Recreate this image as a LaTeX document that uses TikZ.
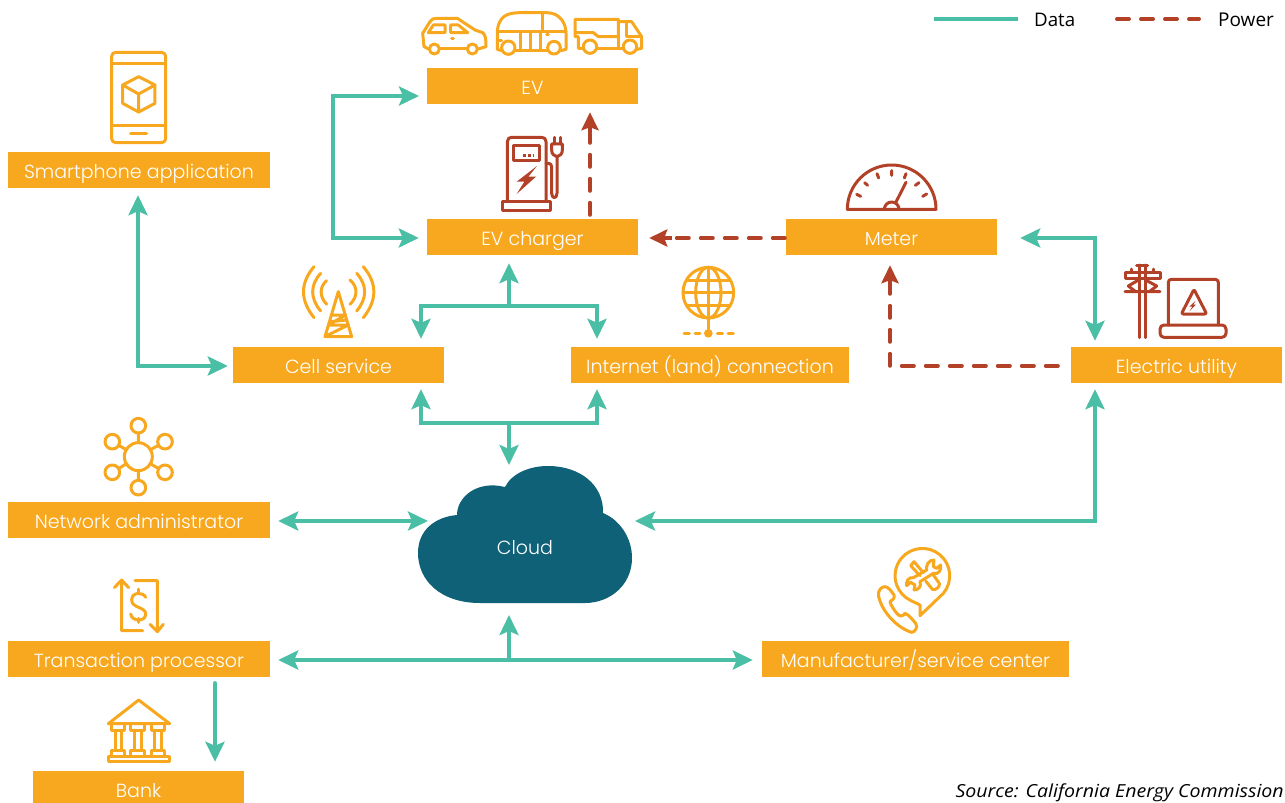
\documentclass[tikz,border=0pt]{standalone}
\usepackage{fontspec}
\usetikzlibrary{arrows.meta,calc}
\setmainfont{Open Sans}
\newfontfamily\lblfont{Poppins Light}
\newfontfamily\srcfont[FakeStretch=1.086]{Open Sans}
\definecolor{boxor}{HTML}{F8A81F}
\definecolor{teal}{HTML}{4ABFA5}
\definecolor{rust}{HTML}{B24127}
\definecolor{cloudc}{HTML}{0E6177}
\tikzset{
 lbl/.style={fill=boxor,text=white,font=\lblfont\fontsize{19}{19}\selectfont,minimum height=36pt,inner xsep=0pt,inner ysep=0pt,text height=17pt,text depth=0pt},
 dataarrow/.style={draw=teal,line width=4.3pt,line join=miter},
 powerarrow/.style={draw=rust,line width=4pt,line cap=round,line join=round,dash pattern=on 12pt off 12pt},
 dtip/.tip={Stealth[length=20pt,width=19pt,inset=4pt,fill=teal]},
 ptip/.tip={Stealth[length=18pt,width=17pt,inset=3pt,fill=rust]},
 oicon/.style={draw=boxor,line width=3pt,line join=round,line cap=round},
 ricon/.style={draw=rust,line width=3pt,line join=round,line cap=round}
}
\begin{document}
\begin{tikzpicture}[x=1pt,y=-1pt]
\useasboundingbox (0,0) rectangle (1285,803);
\clip (0,0) rectangle (1285,803);
% boxes
\node[lbl,minimum width=211pt] (ev) at (532.5,86) {EV};
\node[lbl,minimum width=262pt] (phone) at (139,170) {Smartphone application};
\node[lbl,minimum width=211pt] (charger) at (532.5,237) {EV charger};
\node[lbl,minimum width=211pt] (meter) at (891.5,237) {Meter};
\node[lbl,minimum width=211pt] (cell) at (338.5,365) {Cell service};
\node[lbl,minimum width=278pt] (net) at (710,365) {Internet (land) connection};
\node[lbl,minimum width=211pt] (util) at (1176.5,365) {Electric utility};
\node[lbl,minimum width=262pt] (admin) at (139,520) {Network administrator};
\node[lbl,minimum width=262pt] (trans) at (139,659) {Transaction processor};
\node[lbl,minimum width=307pt] (manu) at (915.5,659) {Manufacturer/service center};
\node[lbl,minimum width=211pt] (bank) at (138.5,789) {Bank};
% cloud
\fill[cloudc] (480,603) .. controls (440,603) and (418,580) .. (418,553)
 .. controls (418,530) and (435,517) .. (457,515)
 .. controls (457,497) and (477,480) .. (505,487)
 .. controls (512,473) and (530,466) .. (548,466)
 .. controls (580,466) and (604,485) .. (603,513)
 .. controls (620,520) and (632,538) .. (632,558)
 .. controls (632,585) and (610,603) .. (585,603) -- cycle;
\node[text=white,font=\lblfont\fontsize{19}{19}\selectfont,inner sep=0pt] (cloud) at (525,548) {Cloud};
\coordinate (cloudW) at (428,521);
\coordinate (cloudE) at (635,521);
\coordinate (cloudN) at (509,465);
\coordinate (cloudS) at (509,615);
% data connectors
\coordinate (bendA) at (333,96);
\draw[dataarrow,{dtip}-{dtip}] (419,96) -- (bendA) |- ($(charger.west)+(-8,1)$);
\draw[dataarrow,{dtip}-{dtip}] ($(phone.south)+(-1,7)$) -- (138,366) -- ($(cell.west)+(-5,1)$);
\coordinate (j1) at (509,306);
\draw[dataarrow,-{dtip}] (j1) -- ($(charger.south)+(-23.5,8)$);
\draw[dataarrow,{dtip}-{dtip}] ($(cell.north)+(82.5,-8)$) |- (j1) -| ($(net.north)+(-113,-8)$);
\coordinate (j2) at (509,423);
\draw[dataarrow,-{dtip}] (j2) -- (cloudN);
\draw[dataarrow,{dtip}-{dtip}] ($(cell.south)+(82.5,6)$) |- (j2) -| ($(net.south)+(-113,6)$);
\coordinate (bendU) at (1095,238);
\draw[dataarrow,{dtip}-{dtip}] ($(meter.east)+(23,1)$) -- (bendU) -- ($(util.north)+(-81.5,-6)$);
\coordinate (bendC) at (1095,521);
\draw[dataarrow,{dtip}-{dtip}] ($(util.south)+(-81.5,6)$) -- (bendC) -- (cloudE);
\draw[dataarrow,{dtip}-{dtip}] ($(admin.east)+(8,1)$) -- (cloudW);
\coordinate (j3) at (509,660);
\draw[dataarrow,{dtip}-{dtip}] ($(trans.east)+(8,1)$) -- ($(manu.west)+(-9,1)$);
\draw[dataarrow,-{dtip}] (j3) -- (cloudS);
\draw[dataarrow,line cap=round,-{dtip}] ($(trans.south)+(76,6)$) -- ($(bank.north)+(76.5,-9)$);
% power connectors
\draw[powerarrow] ($(meter.west)+(-1,1)$) -- (668,238);
\draw[draw=rust,line width=4pt,-{ptip}] (672,238) -- ($(charger.east)+(11,1)$);
\draw[powerarrow] ($(charger.north)+(57.5,-4)$) -- (590,134);
\draw[draw=rust,line width=4pt,-{ptip}] (590,133) -- ($(ev.south)+(57.5,8)$);
\draw[powerarrow] ($(util.west)+(-13,1)$) -- (890,366) -- (890,287);
\draw[draw=rust,line width=4pt,-{ptip}] (890,290) -- ($(meter.south)+(-1.5,10)$);
% legend
\coordinate (legA) at (934,19); \coordinate (legB) at (1018,19);
\coordinate (legC) at (1117,19); \coordinate (legD) at (1199,19);
\draw[dataarrow] (legA) -- (legB);
\draw[powerarrow] (legC) -- (legD);
\node[anchor=west,inner sep=0pt,font=\fontsize{18.7}{19}\selectfont] (ldata) at (1034,20) {Data};
\node[anchor=west,inner sep=0pt,font=\fontsize{19}{19}\selectfont] (lpower) at (1218,20) {Power};
\node[anchor=base east,inner sep=0pt,font=\srcfont\itshape\fontsize{18}{18}\selectfont] (src) at (1284,797.5) {Source: California Energy Commission};
% --- icons ---
% vehicles
\begin{scope}[shift={(400,0)},scale=1/3]
 \draw[oicon] (86,147) -- (72,140) -- (68,100) -- (90,65) .. controls (95,57) and (100,55) .. (110,55) -- (172,55) -- (225,90) -- (248,98) .. controls (256,105) and (258,115) .. (258,140) -- (234,147);
 \draw[oicon] (120,147) -- (200,147);
 \draw[oicon] (103,147) circle (15) (217,147) circle (15);
 \draw[oicon] (85,98) -- (100,75) -- (135,75) -- (135,98) -- cycle;
 \draw[oicon] (152,75) -- (175,75) -- (203,98) -- (152,98) -- cycle;
 \draw[oicon] (155,115) -- (160,115);
 \draw[oicon] (305,152) -- (292,148) -- (292,95) .. controls (295,50) and (320,38) .. (360,38) -- (440,38) .. controls (480,38) and (498,70) .. (498,100) -- (498,148) -- (482,152);
 \draw[oicon] (345,152) -- (442,152);
 \draw[oicon] (325,143) circle (20) (462,143) circle (19);
 \draw[oicon] (292,95) -- (498,95) (428,38) -- (428,95) (362,95) -- (362,152) (390,95) -- (390,152) (420,95) -- (420,152);
 \draw[oicon] (292,122) -- (305,122) (440,105) -- (445,105);
 \draw[oicon] (550,145) -- (535,145) -- (535,110) -- (525,110) -- (525,58) -- (655,58) -- (655,110) -- (595,110) -- (580,98) -- (525,98);
 \draw[oicon] (655,65) -- (695,65) -- (725,110) -- (725,145) -- (712,148);
 \draw[oicon] (678,68) -- (678,110) -- (722,110) (655,110) -- (655,145) (592,145) -- (668,145);
 \draw[oicon] (570,140) circle (20) (690,140) circle (20);
 % charger
 \draw[ricon] (322,605) -- (322,425) .. controls (322,416) and (328,412) .. (335,412) -- (425,412) .. controls (433,412) and (438,416) .. (438,425) -- (438,605);
 \draw[ricon] (340,437) rectangle (418,483);
 \draw[ricon,line cap=butt,dash pattern=on 3pt off 2pt] (368,466) -- (402,466);
 \fill[rust] (411,498) -- (350,545) -- (373,545) -- (350,582) -- (408,530) -- (385,530) -- cycle;
 \draw[ricon] (307,605) rectangle (452,632);
 \draw[ricon] (438,490) -- (445,490) .. controls (455,490) and (455,500) .. (455,510) -- (455,580) .. controls (455,597) and (471,597) .. (471,580) -- (471,470);
 \draw[ricon] (455,432) -- (487,432) -- (487,450) .. controls (487,462) and (480,468) .. (471,470) .. controls (462,468) and (455,462) .. (455,450) -- cycle;
 \draw[ricon] (463,412) -- (463,432) (480,412) -- (480,432);
\end{scope}
% phone
\begin{scope}[shift={(0,30)},scale=1/3]
 \draw[oicon,rounded corners=4pt] (335,67) rectangle (497,338);
 \draw[oicon] (335,100) -- (497,100) (335,285) -- (497,285);
 \draw[oicon,line width=3pt] (392,310) -- (440,310);
 \draw[oicon] (416,140) -- (465,165) -- (465,220) -- (416,246) -- (368,220) -- (368,165) -- cycle;
 \draw[oicon] (368,165) -- (416,192) -- (465,165) (416,192) -- (416,246);
\end{scope}
% tower and globe
\begin{scope}[shift={(280,250)},scale=1/3]
 \draw[oicon] (135,260) -- (175,125) -- (215,260) -- cycle;
 \draw[oicon] (155,195) -- (197,195) -- (145,225) -- (205,225) -- (138,258) (150,215) -- (200,210);
 \draw[oicon] (102,50) .. controls (60,100) and (60,150) .. (102,203);
 \draw[oicon] (122,70) .. controls (90,105) and (90,145) .. (122,183);
 \draw[oicon] (140,92) .. controls (118,110) and (118,140) .. (140,163);
 \draw[oicon] (250,50) .. controls (292,100) and (292,150) .. (250,203);
 \draw[oicon] (230,70) .. controls (262,105) and (262,145) .. (230,183);
 \draw[oicon] (210,90) .. controls (234,110) and (234,140) .. (210,163);
 \draw[oicon] (1285,128) circle (76);
 \draw[oicon] (1285,128) ellipse (38 and 76);
 \draw[oicon] (1285,52) -- (1285,204) (1209,128) -- (1361,128) (1222,90) -- (1348,90) (1222,166) -- (1348,166);
 \draw[oicon] (1285,204) -- (1285,250);
 \fill[boxor] (1285,250) circle (13);
 \draw[oicon] (1212,249) -- (1228,249) (1245,249) -- (1260,249) (1312,249) -- (1328,249) (1344,249) -- (1360,249);
\end{scope}
% meter and utility
\begin{scope}[shift={(830,150)},scale=1/3]
 \draw[ricon] (52,178) arc[start angle=180,end angle=360,radius=133] -- cycle;
 \draw[ricon] (80,133) -- (92,139) (104,98) -- (113,106) (141,71) -- (146,84) (185,62) -- (185,76) (228,71) -- (223,84) (267,98) -- (256,106) (290,132) -- (278,139);
 \draw[ricon] (228,97) -- (197,158);
 \draw[ricon] (163,178) arc[start angle=180,end angle=360,radius=22];
 \draw[ricon,rounded corners=3pt] (1015,525) -- (1015,388) -- (1165,388) -- (1165,525);
 \draw[ricon,rounded corners=4pt] (990,525) rectangle (1188,562);
 \draw[ricon,rounded corners=2pt] (1092,418) -- (1130,492) -- (1054,492) -- cycle;
 \fill[rust] (1097,452) -- (1078,470) -- (1087,470) -- (1078,484) -- (1098,464) -- (1090,464) -- cycle;
\end{scope}
% pole
\begin{scope}[shift={(1115,255)},scale=1/3]
 \draw[ricon] (72,30) -- (72,248) (90,30) -- (90,248) (65,32) -- (98,32);
 \draw[ricon] (30,52) rectangle (135,70);
 \draw[ricon] (50,42) -- (50,52) (115,42) -- (115,52);
 \draw[ricon] (40,93) -- (72,74) (125,93) -- (90,74);
 \draw[ricon] (30,110) -- (135,110) (40,93) -- (62,110) (125,93) -- (103,110);
\end{scope}
% hub and dollar
\begin{scope}[shift={(80,410)},scale=1/3]
 \draw[oicon] (175,140) circle (42);
 \draw[oicon] (175,47) circle (22) (97,95) circle (22) (255,95) circle (22) (97,187) circle (22) (255,187) circle (22) (175,233) circle (22);
 \draw[oicon] (175,69) -- (175,98) (175,182) -- (175,211) (116,106) -- (139,119) (236,106) -- (211,119) (116,176) -- (139,161) (236,176) -- (211,161);
 \draw[oicon] (188,662) -- (125,662) -- (125,510) (103,533) -- (125,510) -- (146,533);
 \draw[oicon] (165,512) -- (232,512) -- (232,665) (210,643) -- (232,665) -- (250,643);
 \draw[oicon] (197,562) .. controls (190,545) and (155,545) .. (155,570) .. controls (155,595) and (197,590) .. (197,612) .. controls (197,637) and (155,635) .. (152,612);
 \draw[oicon] (175,537) -- (175,548) (175,625) -- (175,637);
\end{scope}
% service centre
\begin{scope}[shift={(870,545)},scale=1/3]
 \draw[oicon] (220,145) arc[start angle=40,end angle=-245,radius=82] -- (150,180) -- (150,212) -- cycle;
 \draw[oicon] (45,125) .. controls (35,125) and (22,135) .. (26,155) .. controls (38,205) and (85,250) .. (125,262) .. controls (135,262) and (145,245) .. (137,235) .. controls (128,225) and (118,210) .. (105,205) .. controls (98,215) and (90,215) .. (82,207) .. controls (72,195) and (62,180) .. (60,170) .. controls (68,165) and (75,160) .. (72,150) .. controls (65,140) and (55,125) .. (45,125) -- cycle;
 \draw[oicon] (192,45) .. controls (175,45) and (168,60) .. (170,75) -- (130,98) .. controls (115,95) and (108,110) .. (110,122) -- (122,112) -- (135,120) -- (132,135) .. controls (145,135) and (155,125) .. (150,110) -- (190,85) .. controls (205,90) and (215,75) .. (212,60) -- (200,70) -- (190,65) -- cycle;
 \draw[oicon] (150,92) -- (122,62) -- (132,50) -- (160,83);
 \draw[oicon] (167,108) -- (187,133) .. controls (195,138) and (212,125) .. (208,115) -- (190,90);
\end{scope}
% bank
\begin{scope}[shift={(20,680)},scale=1/3]
 \draw[oicon] (265,131) -- (356,60) -- (449,131) -- cycle;
 \draw[oicon] (275,136) -- (275,150) -- (315,150) -- (315,136) (333,136) -- (333,150) -- (375,150) -- (375,136) (395,136) -- (395,150) -- (435,150) -- (435,136);
 \draw[oicon] (286,150) -- (286,210) (306,150) -- (306,210) (345,150) -- (345,210) (365,150) -- (365,210) (405,150) -- (405,210) (425,150) -- (425,210);
 \draw[oicon] (275,228) -- (275,210) -- (315,210) -- (315,228) (333,228) -- (333,210) -- (375,210) -- (375,228) (395,228) -- (395,210) -- (435,210) -- (435,228);
 \draw[oicon] (265,228) rectangle (449,245);
\end{scope}
\end{tikzpicture}
\end{document}
